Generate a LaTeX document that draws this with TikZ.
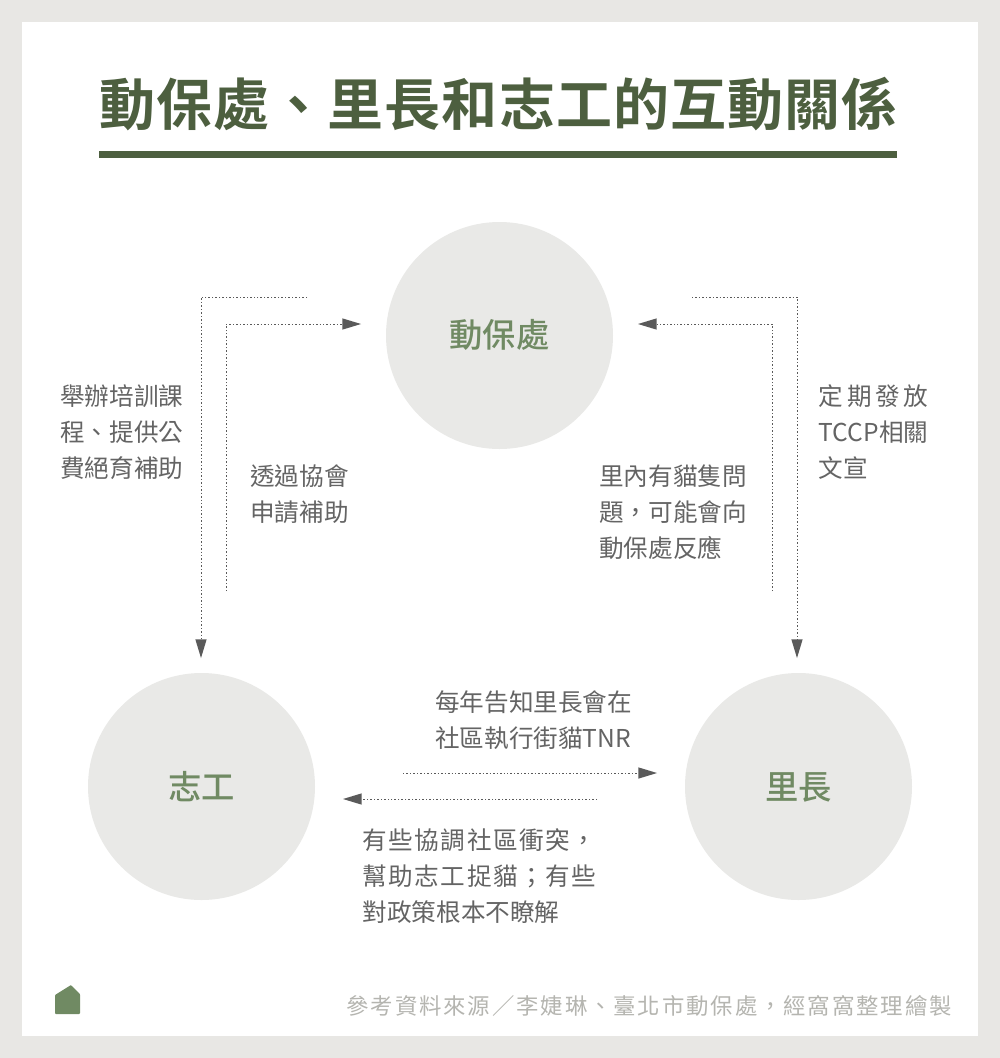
\documentclass[tikz,border=0pt]{standalone}
\usepackage{fontspec}
\usetikzlibrary{arrows.meta}
\newfontfamily\cjk{Noto Sans CJK TC}
\newfontfamily\cjkmed{Noto Sans CJK TC Medium}
\newfontfamily\cjktitle[LetterSpace=2]{Noto Sans CJK TC Bold}
\definecolor{pagegray}{HTML}{E8E7E4}
\definecolor{circgray}{HTML}{E9E9E7}
\definecolor{titlegreen}{HTML}{4D5F3F}
\definecolor{namegreen}{HTML}{708A63}
\definecolor{textgray}{HTML}{646464}
\definecolor{footgray}{HTML}{B5B5B0}
\definecolor{linegray}{HTML}{5A5A5A}
\tikzset{
  x=0.75pt,y=-0.75pt,
  circ/.style={circle,fill=circgray,minimum size=170.25pt,inner sep=0pt},
  namelbl/.style={font=\cjkmed\fontsize{25}{25}\selectfont,text=namegreen},
  lbl/.style={anchor=north west,inner sep=0pt,align=left,text=textgray,
    font=\cjk\fontsize{18.45}{27}\selectfont},
  conn/.style={draw=linegray,line width=0.75pt,dash pattern=on 1.1pt off 1.5pt},
  connarrow/.style={conn,-{Triangle[length=14pt,width=8.5pt,fill=linegray,color=linegray,line width=0pt]}},
}
\begin{document}
\begin{tikzpicture}
\useasboundingbox (0,0) rectangle (1000,1058);
\fill[pagegray] (0,0) rectangle (1000,1058);
\fill[white] (22,22) rectangle (978,1036);
\node[anchor=center,inner sep=0pt,text=titlegreen,font=\cjktitle\fontsize{42}{42}\selectfont] (title) at (498.5,104) {動保處、里長和志工的互動關係};
\fill[titlegreen] (99,151) rectangle (897,158);
\node[circ] (agency) at (499.5,335.5) {};
\node[circ] (vol) at (201.5,786.5) {};
\node[circ] (chief) at (798.5,786.5) {};
\node[namelbl] (agencyt) at (499.5,335) {動保處};
\node[namelbl] (volt) at (201.5,787) {志工};
\node[namelbl] (chieft) at (798.5,787) {里長};
% connectors
\coordinate (a1) at (307,297); \coordinate (a2) at (201,297); \coordinate (a3) at (201,658);
\coordinate (b1) at (226,591); \coordinate (b2) at (226,324); \coordinate (b3) at (361,324);
\coordinate (c1) at (692,297); \coordinate (c2) at (797,297); \coordinate (c3) at (797,658);
\coordinate (d1) at (772,591); \coordinate (d2) at (772,324); \coordinate (d3) at (638,324);
\coordinate (e1) at (403,773); \coordinate (e2) at (657,773);
\coordinate (f1) at (597,799); \coordinate (f2) at (343,799);
\draw[connarrow] (a1) -- (a2) -- (a3);
\draw[connarrow] (b1) -- (b2) -- (b3);
\draw[connarrow] (c1) -- (c2) -- (c3);
\draw[connarrow] (d1) -- (d2) -- (d3);
\draw[connarrow] (e1) -- (e2);
\draw[connarrow] (f1) -- (f2);
% labels
\node[lbl] (l1) at (60,384.5) {舉辦培訓課\\程、提供公\\費絕育補助};
\node[lbl] (l2) at (250,464.5) {透過協會\\申請補助};
\node[lbl] (l3) at (599,464.5) {里內有貓隻問\\題，可能會向\\動保處反應};
\node[lbl] (l4) at (818.5,384.5) {\addfontfeature{LetterSpace=15.5}定期發放\\TCCP相關\\文宣};
\node[lbl] (l5) at (435,690.5) {每年告知里長會在\\社區執行街貓TNR};
\node[lbl] (l6) at (362.5,828.5) {\addfontfeature{LetterSpace=6}有些協調社區衝突，\\\addfontfeature{LetterSpace=6}幫助志工捉貓；有些\\對政策根本不瞭解};
\node[anchor=east,inner sep=0pt,text=footgray,font=\cjk\fontsize{16.8}{20}\selectfont\addfontfeature{LetterSpace=8.4}] (foot) at (952,1006) {參考資料來源／李婕琳、臺北市動保處，經窩窩整理繪製};
\fill[namegreen,rounded corners=0.6pt] (55,1011) -- (55,995) -- (71,985) -- (80,994) -- (80,1014) -- (55,1014) -- cycle;
\end{tikzpicture}
\end{document}
